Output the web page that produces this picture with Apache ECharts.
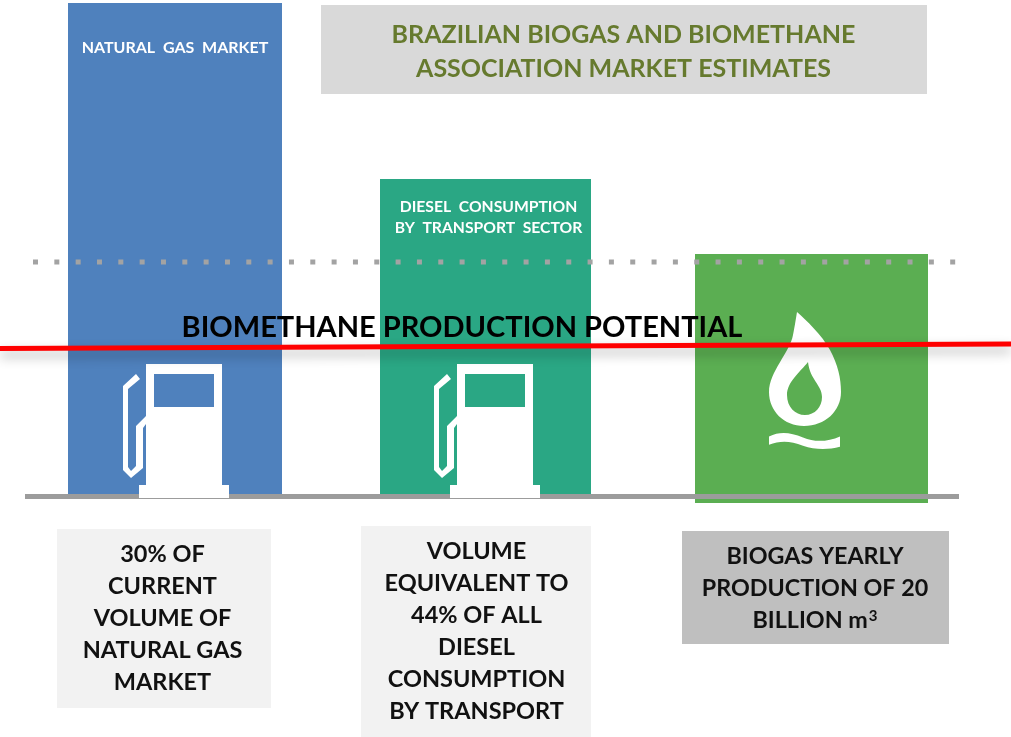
<!DOCTYPE html>
<html>
<head>
<meta charset="utf-8">
<title>Brazilian biogas and biomethane market estimates</title>
<script src="https://cdn.jsdelivr.net/npm/echarts@6/dist/echarts.min.js"></script>
<style>
html,body{margin:0;padding:0;background:#fff;}
#chart{width:1011px;height:737px;}
</style>
</head>
<body>
<div id="chart"></div>
<script>
// values are heights above the baseline
var categories = ['Natural gas market', 'Diesel consumption by transport sector', 'Biogas yearly production'];
var barValues = [492, 316, 241];
var potentialStart = 146.5;
var potentialEnd = 151;
var dottedValue = 233;

var barLabels = ['NATURAL  GAS  MARKET', 'DIESEL  CONSUMPTION\nBY  TRANSPORT  SECTOR'];
var boxTexts = [
	'30% OF\nCURRENT\nVOLUME OF\nNATURAL GAS\nMARKET',
	'VOLUME\nEQUIVALENT TO\n44% OF ALL\nDIESEL\nCONSUMPTION\nBY TRANSPORT',
	'BIOGAS YEARLY\nPRODUCTION OF 20\nBILLION m{sup|3}'
];
var titleText = 'BRAZILIAN BIOGAS AND BIOMETHANE\nASSOCIATION MARKET ESTIMATES';
var potentialText = 'BIOMETHANE PRODUCTION POTENTIAL';

var barColors = ['#4f81bd', '#2aa784', '#5bae52'];
var barSpans = [[68, 282], [380, 591], [695, 928]];
var barDrop = [0, 0, 8];
var FONT = 'Lato, "Open Sans", sans-serif';

var PUMP = 'M146 364H222V485H229V498H139V485H146V424L143 428V468L131 478L123 470V386L136 374L140 379L128 389V467L131 471L136 466V426L146 416ZM154 374V407H214V374Z';
var DROP = 'M797 312C806 320 822 335 830 350C838 365 841 378 841 392C841 411 825 426 804 426C784 426 769 411 769 392C769 372 790 352 793 335C795 325 796 318 797 312Z'
	+ 'M808 362C800 372 787 382 787 395C787 407 795 415 805 415C815 415 822 407 822 397C822 385 810 380 808 362Z';
var WAVE = 'M769 437C780 432 790 433 803 438C815 443 828 442 840 437V447C828 450 815 450 803 446C790 441 780 441 769 445Z';

// path and its box on the page
var icons = [
	[PUMP, 123, 364, 106, 134],
	[PUMP, 434, 364, 106, 134],
	[DROP, 769, 312, 72, 114],
	[WAVE, 769, 433, 71, 16]
];

function box(x, y, w, h, color) {
	return {type: 'rect', z: 3, silent: true, shape: {x: x, y: y, width: w, height: h}, style: {fill: color}};
}
function label(x, y, text, size, color, lineHeight) {
	var font = 'bold ' + size + 'px ' + FONT;
	return {
		type: 'text', z: 8, silent: true, x: x, y: y,
		style: {
			text: text, fill: color, font: font,
			lineHeight: lineHeight, align: 'center', verticalAlign: 'middle',
			rich: {
				// m3 superscript
				sup: {font: 'bold 15px ' + FONT, fill: color, lineHeight: lineHeight, padding: [0, 0, 9, 1]}
			}
		}
	};
}

var myChart = echarts.init(document.getElementById('chart'));
var option = {
	animation: false,
	backgroundColor: '#ffffff',
	grid: {left: 0, right: 0, top: 0, bottom: 0},
	xAxis: {type: 'value', min: 0, max: 1011, show: false},
	yAxis: {type: 'value', min: -242, max: 495, show: false},
	series: [
		{
			name: 'bars',
			type: 'custom',
			z: 2,
			silent: true,
			data: categories.map(function (c, i) { return [i, barValues[i]]; }),
			renderItem: function (params, api) {
				var i = api.value(0);
				var a = api.coord([barSpans[i][0], api.value(1)]);
				var b = api.coord([barSpans[i][1], -barDrop[i]]);
				return {
					type: 'rect',
					shape: {x: a[0], y: a[1], width: b[0] - a[0], height: b[1] - a[1]},
					style: {fill: barColors[i]}
				};
			}
		},
		{
			name: 'baseline',
			type: 'line',
			z: 4,
			silent: true,
			symbol: 'none',
			data: [[25, -1.5], [959, -1.5]],
			lineStyle: {color: '#9c9c9c', width: 5, cap: 'butt'}
		},
		{
			name: 'dotted',
			type: 'line',
			z: 5,
			silent: true,
			symbol: 'none',
			data: [[33, dottedValue], [958, dottedValue]],
			lineStyle: {color: '#a3a3a3', width: 5, type: [5, 16.33], cap: 'butt'}
		},
		{
			name: 'icons',
			type: 'custom',
			z: 6,
			silent: true,
			data: icons.map(function (c, i) { return [i]; }),
			renderItem: function (params, api) {
				var c = icons[api.value(0)];
				return {
					type: 'path',
					shape: {pathData: c[0], layout: 'cover', x: c[1], y: c[2], width: c[3], height: c[4]},
					style: {fill: '#ffffff'}
				};
			}
		},
		{
			name: 'potential',
			type: 'line',
			z: 7,
			silent: true,
			symbol: 'none',
			data: [[0, potentialStart], [1011, potentialEnd]],
			lineStyle: {
				color: '#ff0000', width: 5, cap: 'butt',
				shadowColor: 'rgba(0,0,0,0.3)', shadowBlur: 12, shadowOffsetY: 6
			}
		}
	],
	graphic: {
		elements: [
			box(321, 5, 606, 89, '#d9d9d9'),
			box(57, 529, 214, 179, '#f2f2f2'),
			box(361, 526, 230, 211, '#f2f2f2'),
			box(682, 531, 267, 113, '#bfbfbf'),
			label(623.5, 52, titleText, 25, '#667a2e', 34),
			label(175, 48, barLabels[0], 16, '#ffffff', 21),
			label(488.5, 217.5, barLabels[1], 15.7, '#ffffff', 21),
			label(462, 327.5, potentialText, 29, '#000000', 34),
			label(162.5, 618.5, boxTexts[0], 23.5, '#111111', 32),
			label(476.5, 631, boxTexts[1], 23.5, '#111111', 32),
			label(815, 588.5, boxTexts[2], 23.3, '#111111', 32)
		]
	}
};
myChart.setOption(option);
</script>
</body>
</html>
